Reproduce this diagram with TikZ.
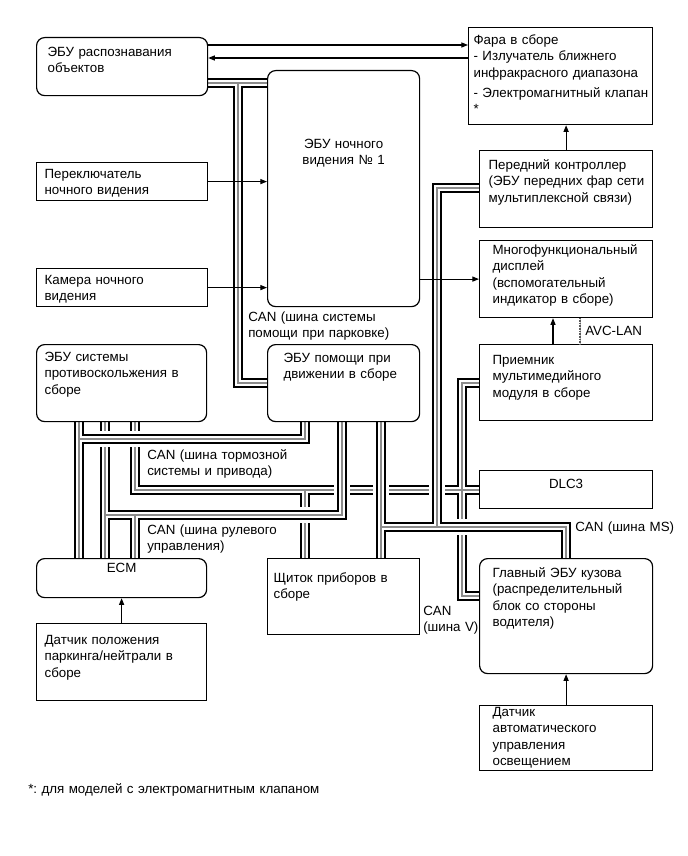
\documentclass[tikz,border=0pt]{standalone}
\usepackage{fontspec}
\setmainfont{Liberation Sans}
\usetikzlibrary{arrows.meta}
\pgfdeclarelayer{background}
\pgfsetlayers{background,main}
\frenchspacing

\begin{document}
\begin{tikzpicture}[
    x=0.75pt, y=-0.75pt,
    % Стили блоков
    box/.style={
        rectangle,
        draw=black,
        line width=0.9pt,
        fill=white,
        anchor=north west,
        align=left,
        inner ysep=2pt,
        font=\fontsize{10}{12.4}\selectfont
    },
    ecu/.style={box, rounded corners=6pt},
    % Стиль шин CAN
    bus/.style={
        draw=black,
        line width=7.5pt,
        line join=miter,
        preaction={draw=white, line width=12.5pt},
        postaction={draw=white, line width=3.8pt},
        postaction={draw=black!45, line width=0.8pt}
    },
    avc/.style={draw=black!65, line width=2.2pt, dash pattern=on 0.6pt off 0.6pt,
        preaction={draw=black!25, solid}},
    % Стрелки
    arrow/.style={-{Triangle[length=5pt, width=3.8pt]}, line width=0.8pt},
    % Подписи
    note/.style={anchor=north west, inner sep=0pt, align=left, text width=150pt,
        text height=7.5pt, font=\fontsize{10}{11.5}\selectfont}
]
\useasboundingbox (0,0) rectangle (687,856);

% Левая колонка
\node[ecu, text width=111.75pt, inner xsep=8.25pt, text height=11.875pt, text depth=27.625pt] (recog) at (36,37) {ЭБУ распознавания\\объектов};
\node[box, text width=116.25pt, inner xsep=6pt, text height=9.625pt, text depth=14.875pt] (switch) at (36,162) {Переключатель\\ночного видения};
\node[box, text width=116.25pt, inner xsep=6pt, text height=9.625pt, text depth=14.875pt] (camera) at (36,268) {Камера ночного\\видения};
\node[ecu, text width=115.5pt, inner xsep=6pt, text height=10.375pt, text depth=43.375pt] (skid) at (36,344) {ЭБУ системы\\противоскольжения~в\\сборе};
\node[ecu, align=center, text width=115.5pt, inner xsep=6pt, text height=8.125pt, text depth=17.125pt] (ecm) at (36,558) {ECM};
\node[box, text width=115.5pt, inner xsep=6pt, text height=13.375pt, text depth=40.375pt] (pnsensor) at (36,623) {Датчик положения\\паркинга/нейтрали~в\\сборе};

% Средняя колонка
\node[ecu, align=center, text width=102pt, inner xsep=6pt, text height=56.125pt, text depth=116.875pt] (nv) at (267,70) {ЭБУ ночного\\видения № 1};
\node[ecu, text width=90pt, inner xsep=12pt, text height=11.125pt, text depth=42.625pt] (assist) at (267,344) {ЭБУ помощи при\\движении~в~сборе};
\node[box, text width=105pt, inner xsep=4.5pt, text height=15.625pt, text depth=37.375pt] (meter) at (267,558) {Щиток приборов в\\сборе};

% Правая колонка
\node[box, text width=130.5pt, inner xsep=3.75pt, text height=10.375pt, text depth=58.375pt] (headlamp) at (468,27) {Фара в сборе\\\mbox{- Излучатель ближнего}\\инфракрасного~диапазона\\[2.5pt]\mbox{- Электромагнитный клапан}\\{*}};
\node[box, text width=116.25pt, inner xsep=6.75pt, text height=11.875pt, text depth=41.875pt] (frontctl) at (479,150) {Передний контроллер\\(ЭБУ~передних~фар~сети\\мультиплексной~связи)};
\node[box, text width=110.25pt, inner xsep=9.75pt, text height=8.125pt, text depth=45.625pt] (display) at (479,240) {Многофункциональный\\дисплей\\(вспомогательный\\индикатор~в~сборе)};
\node[box, text width=110.25pt, inner xsep=9.75pt, text height=12.625pt, text depth=40.375pt] (receiver) at (479,344) {Приемник\\мультимедийного\\модуля в сборе};
\node[box, align=center, text width=117.75pt, inner xsep=6pt, text height=11.125pt, text depth=13.375pt] (dlc) at (479,470) {DLC3};
\node[ecu, text width=110.25pt, inner xsep=9.75pt, text height=11.875pt, text depth=70.375pt] (mainbody) at (479,558) {Главный ЭБУ кузова\\(распределительный\\блок со стороны\\водителя)};
\node[box, text width=110.25pt, inner xsep=9.75pt, text height=5.875pt, text depth=38.875pt] (lightsensor) at (479,705) {Датчик\\автоматического\\управления\\освещением};

% Подписи шин
\node[note] (canpark) at (248,311.5) {CAN (шина системы\\помощи при парковке)};
\node[note] (canbrake) at (147,449.5) {CAN (шина тормозной\\системы и привода)};
\node[note] (cansteer) at (147,524.5) {CAN (шина рулевого\\управления)};
\node[note] (canms) at (575,521.5) {CAN (шина MS)};
\node[note] (canv) at (423,605.5) {CAN\\(шина V)};
\node[note] (avclan) at (585,325.5) {AVC-LAN};
\node[note, text width=300pt] (footnote) at (28,783.5) {*: для моделей с электромагнитным клапаном};

% Шины CAN (под блоками)
\begin{pgfonlayer}{background}
\fill[white] (0,0) rectangle (687,856);
\draw[bus] (skid.south -| 135,0) -- (135,490) -- (dlc.west |- 0,490)
    (305,490) -- (meter.north -| 305,0)
    (receiver.west |- 0,383) -- (462,383) -- (462,596) -- (mainbody.west |- 0,596);
\draw[bus] (skid.south -| 105,0) -- (ecm.north -| 105,0)
    (105,515) -- (342,515) -- (assist.south -| 342,0)
    (135,515) -- (ecm.north -| 135,0);
\draw[bus] (skid.south -| 79,0) -- (ecm.north -| 79,0)
    (79,439) -- (305,439) -- (assist.south -| 305,0);
\draw[bus] (frontctl.west |- 0,188) -- (437,188) -- (437,527)
    (assist.south -| 381,0) -- (meter.north -| 381,0)
    (381,527) -- (566,527) -- (mainbody.north -| 566,0);
\draw[bus] (recog.east |- 0,83) -- (nv.west |- 0,83)
    (238,83) -- (238,383) -- (assist.west |- 0,383);
\end{pgfonlayer}

% Стрелки
\draw[arrow] (recog.east |- 0,45) -- (headlamp.west |- 0,45);
\draw[arrow] (headlamp.west |- 0,58) -- (recog.east |- 0,58);
\foreach \src in {switch, camera} {
    \draw[arrow] (\src.east) -- (nv.west |- \src.east);
}
\draw[arrow] (nv.east |- display.west) -- (display.west);
\draw[arrow] (frontctl.north) -- (headlamp.south -| frontctl.north);
\draw[arrow] (receiver.north -| 553,0) -- (display.south -| 553,0);
\draw[avc] (display.south -| 580,0) -- (receiver.north -| 580,0);
\draw[arrow] (pnsensor.north) -- (ecm.south);
\draw[arrow] (lightsensor.north) -- (mainbody.south);

\end{tikzpicture}
\end{document}
